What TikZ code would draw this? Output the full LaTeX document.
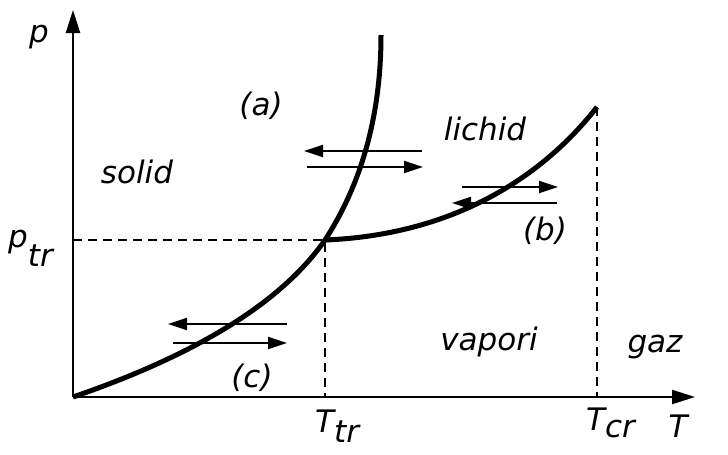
\documentclass[tikz,border=0pt]{standalone}
\usepackage{fontspec}
\setmainfont{DejaVu Sans}
\usetikzlibrary{arrows.meta}
\begin{document}
\begin{tikzpicture}[x=1pt,y=-1pt,
  lbl/.style={font=\fontsize{31}{32}\selectfont\itshape, inner sep=0pt},
  axis/.style={line width=2.4pt, -{Triangle[length=23pt,width=14pt]}},
  curve/.style={line width=5pt},
  guide/.style={line width=2pt, dash pattern=on 9pt off 6pt},
  harrow/.style={line width=2.2pt, -{Triangle[length=19pt,width=12pt]}}]
\useasboundingbox (0,0) rectangle (728,455);
% key points
\coordinate (O) at (73,397);
\coordinate (Ptop) at (73,10);
\coordinate (Tend) at (695,397);
\coordinate (TP) at (325,240);
\coordinate (CP) at (597,107);
\coordinate (Mtop) at (381,35);
\coordinate (Py) at (73,240);
\coordinate (Tx) at (325,397);
\coordinate (Cx) at (597,397);
% axes
\draw[axis] (O) -- (Ptop);
\draw[axis] (O) -- (Tend);
% guides
\draw[guide] (Py) -- (TP) -- (Tx);
\draw[guide] (CP) -- (Cx);
% phase curves
\draw[curve] (O) .. controls (175,362) and (275,312) .. (TP) .. controls (364,180) and (381,110) .. (Mtop);
\draw[curve] (TP) .. controls (450,235) and (540,180) .. (CP);
% transition arrows
\coordinate (A1s) at (422,151); \coordinate (A1e) at (304,151);
\coordinate (A2s) at (307,167); \coordinate (A2e) at (423,167);
\coordinate (B1s) at (462,187); \coordinate (B1e) at (558,187);
\coordinate (B2s) at (557,203); \coordinate (B2e) at (452,203);
\coordinate (C1s) at (287,324); \coordinate (C1e) at (168,324);
\coordinate (C2s) at (173,343); \coordinate (C2e) at (287,343);
\draw[harrow] (A1s) -- (A1e);
\draw[harrow] (A2s) -- (A2e);
\draw[harrow] (B1s) -- (B1e);
\draw[harrow] (B2s) -- (B2e);
\draw[harrow] (C1s) -- (C1e);
\draw[harrow] (C2s) -- (C2e);
% labels
\node[lbl, anchor=base] (solid) at (137,183) {solid};
\node[lbl, anchor=base] (lichid) at (485,140) {lichid};
\node[lbl, anchor=base] (vapori) at (489,350) {vapori};
\node[lbl, anchor=base] (gaz) at (655,352) {gaz};
\node[lbl, anchor=base] (la) at (261,115) {(a)};
\node[lbl, anchor=base] (lb) at (545,240) {(b)};
\node[lbl, anchor=base] (lc) at (252,387) {(c)};
\node[lbl, anchor=base] (p) at (39,42) {p};
\node[lbl, anchor=base west] (ptr) at (8,247) {p\raisebox{-19pt}{tr}};
\node[lbl, anchor=base west] (Ttr) at (315,432) {T\raisebox{-10pt}{tr}};
\node[lbl, anchor=base west] (Tcr) at (586,430) {T\raisebox{-7pt}{cr}};
\node[lbl, anchor=base] (T) at (678,437) {T};
\end{tikzpicture}
\end{document}
